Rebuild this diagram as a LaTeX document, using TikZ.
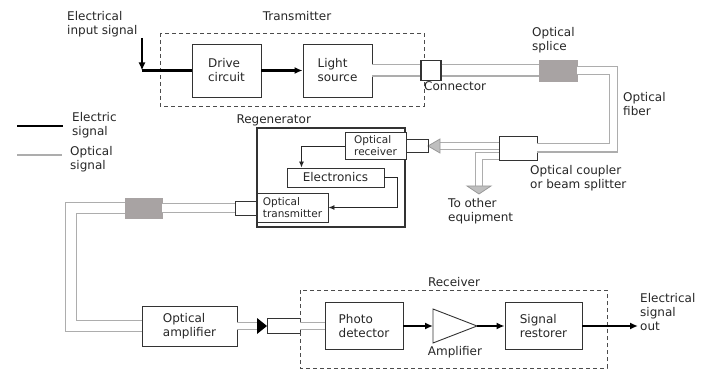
\documentclass[tikz,border=0pt]{standalone}
\usepackage{fontspec}
\setmainfont{DejaVu Sans}
\usetikzlibrary{arrows.meta}
\newcommand\figfont{\fontsize{12}{14}\selectfont}
\definecolor{splicegray}{RGB}{168,163,163}

\begin{document}
\begin{tikzpicture}[x=1pt,y=-1pt,
  every node/.style={font=\figfont,text=black!85,inner sep=1pt,align=left},
  box/.style n args={2}{draw=black!80,line width=0.9pt,minimum width=#1,minimum height=#2},
  eline/.style={draw=black,line width=2.2pt},
  ethin/.style={draw=black!85,line width=0.9pt},
  fiber/.style={draw=black!32,line width=1.2pt,double=white,double distance=#1},
  fiber/.default=7pt,
  dashbox/.style={draw=black!70,line width=0.9pt,dash pattern=on 4pt off 3pt},
  tip/.style={-{Latex[length=8pt,width=7pt]}}]
\useasboundingbox (0,0) rectangle (701,371);

\draw[dashbox] (160,33) rectangle (424,106);
\node (txlbl) at (297,16) {Transmitter};
\node[box={69}{53}] (drive) at (226.5,70.5) {Drive\\circuit};
\node[box={69}{53}] (light) at (337.5,70.5) {Light\\source};
\node[anchor=north west] (inlbl) at (66,10) {Electrical\\input signal};
\coordinate (instart) at (142,38);
\coordinate (incorner) at (142,70.5);
\draw[eline,tip] (instart) -- (incorner);
\draw[eline] (incorner) -- (drive);
\draw[eline,tip] (drive) -- (light);

\node[box={20}{20},line width=1.2pt,fill=white] (conn1) at (431,70.5) {};
\node[anchor=north west] (connlbl) at (423,80) {Connector};
\node[box={38}{21},draw=splicegray,fill=splicegray] (splice1) at (558,70.5) {};
\node[anchor=south west] (splicelbl) at (531,54) {Optical\\splice};
\draw[fiber=10pt] (light) -- (conn1);
\draw[fiber=10pt] (conn1) -- (splice1);
\node[anchor=west] (fiberlbl) at (622,104) {Optical\\fiber};

\node[box={38}{24}] (coupler) at (518,148) {};
\draw[fiber] (splice1) -| (613.5,148) -- (coupler);
\node[anchor=north west] (couplbl) at (529,164) {Optical coupler\\or beam splitter};
\coordinate (rxtip) at (440,146);
\draw[fiber=6pt] ([yshift=2pt]coupler.west) -- (rxtip);
\draw[black!40,fill=black!25,line width=0.8pt] (440,139) -- (428,146) -- (440,153) -- cycle;
\coordinate (brtip) at (479,186);
\draw[fiber=6pt] ([yshift=-8pt]coupler.west) -| (brtip);
\draw[black!40,fill=black!25,line width=0.8pt] (467,186) -- (479,194) -- (491,186) -- cycle;
\node[anchor=north west] (otherlbl) at (447,197) {To other\\equipment};

\node[box={148}{99},line width=1.4pt] (regen) at (331,177.5) {};
\node[anchor=south west] (regenlbl) at ([xshift=-21pt]regen.north west) {Regenerator};
\node[box={61}{27},fill=white,font=\fontsize{10.5}{12}\selectfont] (orx) at (375.5,146) {Optical\\receiver};
\node[box={22}{13}] (rxconn) at (417,146) {};
\node[box={97}{19}] (elec) at (335.5,177.5) {Electronics};
\node[box={71}{29},fill=white,font=\fontsize{10.5}{12}\selectfont] (otx) at (292.5,207.5) {Optical\\transmitter};
\draw[ethin,-{Latex[length=6pt,width=5pt]}] (orx.west) -| ([xshift=-34pt]elec.north);
\draw[ethin,-{Latex[length=6pt,width=5pt]}] (elec.east) -- ++(13,0) |- (otx.east);
\node[box={22}{14}] (txconn) at (246,208) {};

\node[box={37}{20},draw=splicegray,fill=splicegray] (splice2) at (143.5,208) {};
\node[box={95}{40}] (oamp) at (189.5,326) {Optical\\amplifier};
\draw[fiber=8pt] (txconn) -- (splice2);
\draw[fiber=10pt] (splice2) -| (71,326) -- (oamp);

\coordinate (amptip) at (258,326);
\draw[fiber=6pt] (oamp) -- (amptip);
\fill[black] (257,318) -- (267,326) -- (257,334) -- cycle;
\node[box={33}{15}] (rxin) at (283.5,326) {};

\draw[dashbox] (300,290) rectangle (607,368);
\node (rxlbl) at (454,282) {Receiver};
\node[box={78}{47}] (photo) at (364,326) {Photo\\detector};
\draw[fiber=6pt] (rxin) -- (photo);
\coordinate (ampin) at (433,326);
\coordinate (ampout) at (477,326);
\draw[black!80,line width=0.9pt] (433,309) -- (ampout) -- (433,343) -- cycle;
\node (amplbl) at (455,352) {Amplifier};
\node[box={77}{47}] (restorer) at (543.5,326) {Signal\\restorer};
\coordinate (outend) at (638,326);
\draw[eline,tip] (photo) -- (ampin);
\draw[eline,tip] (ampout) -- (restorer);
\draw[eline,tip] (restorer) -- (outend);
\node[anchor=west] (outlbl) at (639,312) {Electrical\\signal\\out};

\coordinate (elegA) at (17,126);
\coordinate (elegB) at (63,126);
\draw[eline] (elegA) -- (elegB);
\node[anchor=west] (elbl) at (71,125) {Electric\\signal};
\coordinate (olegA) at (17,155);
\coordinate (olegB) at (62,155);
\draw[black!32,line width=1.6pt] (olegA) -- (olegB);
\node[anchor=west] (olbl) at (69,159) {Optical\\signal};

\end{tikzpicture}
\end{document}
